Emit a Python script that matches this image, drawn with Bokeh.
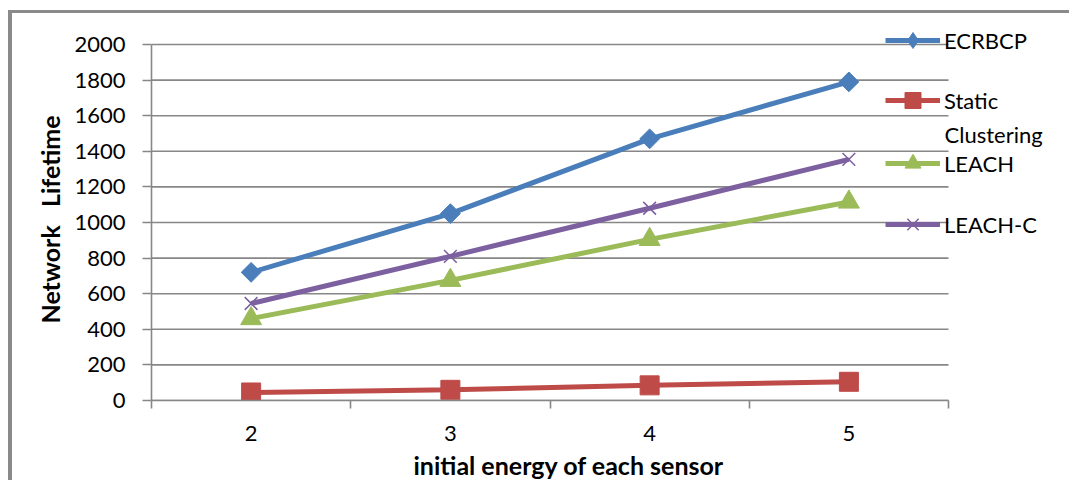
import math
from bokeh.plotting import figure
from bokeh.models import Range1d, FixedTicker, Legend, LegendItem, Label, Title
from bokeh.embed import file_html
from bokeh.resources import INLINE

# ---- data ----
energy = [2, 3, 4, 5]
x_labels = ["2", "3", "4", "5"]
ecrbcp = [720, 1050, 1470, 1790]
static_clustering = [45, 60, 85, 105]
leach = [460, 675, 905, 1115]
leach_c = [545, 810, 1080, 1355]
y_ticks = [0, 200, 400, 600, 800, 1000, 1200, 1400, 1600, 1800, 2000]

FONT = "Lato"
FS = "22px"
TFS = "25px"
GRID = "#878787"

# layout numbers (pixels)
fig_w, fig_h = 1061, 470
frame_left, frame_right = 139, 0
frame_top, frame_bottom = 0, 83
frame_w = fig_w - frame_left - frame_right
frame_h = fig_h - frame_top - frame_bottom
cat_px = 797 / len(energy)          # width of one category
top_px = 356                         # pixel height of 0..2000
x_lo = energy[0] - 0.5
x_hi = energy[-1] + 0.5
x_end = x_lo + frame_w / cat_px
y_end = y_ticks[-1] * frame_h / top_px

p = figure(width=fig_w, height=fig_h, output_backend="svg", toolbar_location=None,
           x_range=Range1d(x_lo, x_end), y_range=Range1d(0, y_end),
           min_border_left=frame_left, min_border_right=frame_right,
           min_border_top=frame_top, min_border_bottom=frame_bottom)
p.styles = {"margin-left": "8px", "margin-top": "10px",
            "border-left": "4px solid #8a8a8a", "border-top": "3px solid #8a8a8a"}
p.outline_line_color = None
p.xgrid.visible = False
p.ygrid.visible = False
p.background_fill_color = "white"
p.border_fill_color = "white"

# horizontal grid lines limited to the category span
n = len(y_ticks)
p.segment(x0=[x_lo] * n, y0=y_ticks, x1=[x_hi] * n, y1=y_ticks,
          line_color=GRID, line_width=1.6)

# y axis
ya = p.yaxis[0]
ya.ticker = FixedTicker(ticks=y_ticks)
ya.bounds = (y_ticks[0], y_ticks[-1])
ya.axis_line_color = GRID
ya.axis_line_width = 1.6
ya.major_tick_line_color = GRID
ya.major_tick_line_width = 1.6
ya.major_tick_out = 9
ya.major_tick_in = 0
ya.minor_tick_line_color = None
ya.major_label_standoff = 17
ya.major_label_text_font = FONT
ya.major_label_text_font_size = FS
ya.major_label_text_color = "black"

p.add_layout(Title(text="Network\u00a0\u00a0\u00a0Lifetime", align="left", offset=77,
                   text_font=FONT, text_font_size=TFS, text_font_style="bold",
                   text_color="black", standoff=14), "left")

# x axis
xa = p.xaxis[0]
xa.ticker = FixedTicker(ticks=energy, minor_ticks=[e - 0.5 for e in energy] + [x_hi])
xa.major_label_overrides = {e: s for e, s in zip(energy, x_labels)}
xa.bounds = (x_lo, x_hi)
xa.axis_line_color = GRID
xa.axis_line_width = 1.6
xa.major_tick_line_color = None
xa.major_tick_out = 0
xa.major_tick_in = 0
xa.minor_tick_line_color = GRID
xa.minor_tick_line_width = 1.6
xa.minor_tick_out = 8
xa.minor_tick_in = 0
xa.major_label_standoff = 17
xa.major_label_text_font = FONT
xa.major_label_text_font_size = FS
xa.major_label_text_color = "black"

p.add_layout(Title(text="initial energy of each sensor", align="left", offset=262,
                   text_font=FONT, text_font_size=TFS, text_font_style="bold",
                   text_color="black", standoff=8), "below")

# series
series = [
    ("ECRBCP", ecrbcp, "#4A7EBB", dict(marker="square", size=14, angle=math.pi / 4), "diamond"),
    ("Static", static_clustering, "#BE4B48", dict(marker="square", size=19), None),
    ("LEACH", leach, "#9BBB59", dict(marker="triangle", size=21), None),
    ("LEACH-C", leach_c, "#7D60A0", dict(marker="x", size=18, line_width=1.5), None),
]
legend_center_y = [40, 100, 163, 224]   # page pixel rows of the legend entries
GH = 40
for (name, vals, col, mk, leg_marker), cy in zip(series, legend_center_y):
    lr = p.line(energy, vals, line_color=col, line_width=5)
    kw = dict(mk)
    lw = kw.pop("line_width", 1)
    sr = p.scatter(energy, vals, fill_color=col, line_color=col, line_width=lw, **kw)
    rends = [lr, sr]
    if leg_marker is not None:
        hr = p.scatter(energy, vals, marker=leg_marker, size=10, fill_color=col,
                       line_color=col, visible=False)
        rends = [lr, hr]
    lg = Legend(items=[LegendItem(label=name, renderers=rends)],
                location=(734, 400 - (cy + GH / 2)), padding=0, margin=0, spacing=0,
                glyph_width=55, glyph_height=GH, label_standoff=4,
                label_text_font=FONT, label_text_font_size=FS,
                label_text_color="black", border_line_color=None,
                background_fill_alpha=0, inactive_fill_alpha=0)
    p.add_layout(lg, "center")

# second line of the "Static Clustering" legend label
p.add_layout(Label(x=793, y=400 - 134, x_units="screen", y_units="screen",
                   text="Clustering", text_font=FONT, text_font_size=FS,
                   text_color="black", text_baseline="middle"))

open("out.html", "w").write(file_html(p, INLINE))
